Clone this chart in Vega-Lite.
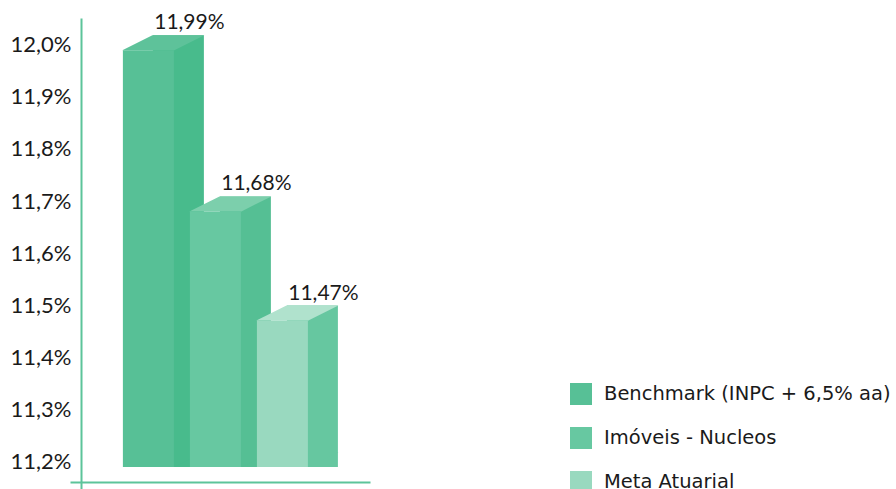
{
  "$schema": "https://vega.github.io/schema/vega-lite/v6.json",
  "width": 300,
  "height": 471,
  "autosize": {"type": "none"},
  "padding": {"left": 70, "top": 18, "right": 526, "bottom": 0},
  "background": "white",
  "config": {
    "locale": {"number": {"decimal": ",", "thousands": ".", "grouping": [3], "currency": ["R$", ""]}},
    "view": {"stroke": null},
    "font": "Lato"
  },
  "data": {
    "values": [
      {"serie": "Benchmark (INPC + 6,5% aa)", "valor": 0.1199},
      {"serie": "Imóveis - Nucleos", "valor": 0.1168},
      {"serie": "Meta Atuarial", "valor": 0.1147}
    ]
  },
  "encoding": {
    "x": {
      "field": "serie", "type": "nominal",
      "scale": {"domain": ["Benchmark (INPC + 6,5% aa)", "Imóveis - Nucleos", "Meta Atuarial"], "paddingInner": 0.239, "paddingOuter": 0.858, "align": 0.46},
      "axis": {"title": null, "labels": false, "ticks": false, "domain": true, "domainColor": "#5cc49a", "domainWidth": 2, "offset": -7, "grid": false}
    }
  },
  "layer": [
    {
      "mark": {"type": "rect", "xOffset": 30, "yOffset": -15},
      "encoding": {
        "y": {"field": "valor", "type": "quantitative",
          "scale": {"domain": [0.111462, 0.120519], "nice": false, "zero": false},
          "axis": {"title": null, "orient": "left", "offset": -11, "values": [0.112, 0.113, 0.114, 0.115, 0.116, 0.117, 0.118, 0.119, 0.120], "format": ".1%", "grid": false, "ticks": false, "tickSize": 0, "labelPadding": 10, "labelFontSize": 22, "labelColor": "#1a1a1a", "labelFont": "Lato", "domainColor": "#5cc49a", "domainWidth": 2}},
        "y2": {"datum": 0.111885},
        "color": {"field": "serie", "type": "nominal", "legend": null,
          "scale": {"domain": ["Benchmark (INPC + 6,5% aa)", "Imóveis - Nucleos", "Meta Atuarial"], "range": ["#48bb8c", "#55bf94", "#66c7a0"]}}
      }
    },
    {
      "mark": {"type": "point", "shape": "M-1,-0.5 L1,-0.5 L-1,0.5 Z", "size": 900, "filled": true, "opacity": 1, "strokeWidth": 0, "xOffset": 41, "yOffset": -7.5},
      "encoding": {
        "y": {"datum": 0.111885},
        "color": {"field": "serie", "type": "nominal", "legend": null,
          "scale": {"domain": ["Benchmark (INPC + 6,5% aa)", "Imóveis - Nucleos", "Meta Atuarial"], "range": ["#48bb8c", "#55bf94", "#66c7a0"]}}
      }
    },
    {
      "mark": {"type": "point", "shape": "M-1,0.183 L0.268,0.183 L1,-0.183 L-0.268,-0.183 Z", "size": 6724, "filled": true, "opacity": 1, "strokeWidth": 0, "xOffset": 15, "yOffset": -7.5},
      "encoding": {
        "y": {"field": "valor", "type": "quantitative"},
        "color": {"field": "serie", "type": "nominal", "legend": null,
          "scale": {"domain": ["Benchmark (INPC + 6,5% aa)", "Imóveis - Nucleos", "Meta Atuarial"], "range": ["#5ec29a", "#7ccfac", "#b0e2cd"]}}
      }
    },
    {
      "mark": {"type": "rect"},
      "encoding": {
        "y": {"field": "valor", "type": "quantitative"},
        "y2": {"datum": 0.111885},
        "color": {"field": "serie", "type": "nominal",
          "scale": {"domain": ["Benchmark (INPC + 6,5% aa)", "Imóveis - Nucleos", "Meta Atuarial"], "range": ["#57c096", "#67c8a1", "#99d9bf"]},
          "legend": {"title": null, "orient": "none", "legendX": 500, "legendY": 365, "symbolType": "square", "symbolSize": 484, "symbolStrokeWidth": 0, "symbolOpacity": 1, "labelFontSize": 19.5, "labelFont": "DejaVu Sans", "labelColor": "#1a1a1a", "labelOffset": 12, "rowPadding": 22, "labelLimit": 400}}
      }
    },
    {
      "mark": {"type": "text", "xOffset": 41, "dy": -21, "baseline": "alphabetic", "align": "center", "fontSize": 21, "font": "Lato", "color": "#1a1a1a"},
      "encoding": {
        "y": {"field": "valor", "type": "quantitative"},
        "text": {"field": "valor", "type": "quantitative", "format": ".2%"}
      }
    }
  ],
  "resolve": {"scale": {"color": "independent"}}
}
